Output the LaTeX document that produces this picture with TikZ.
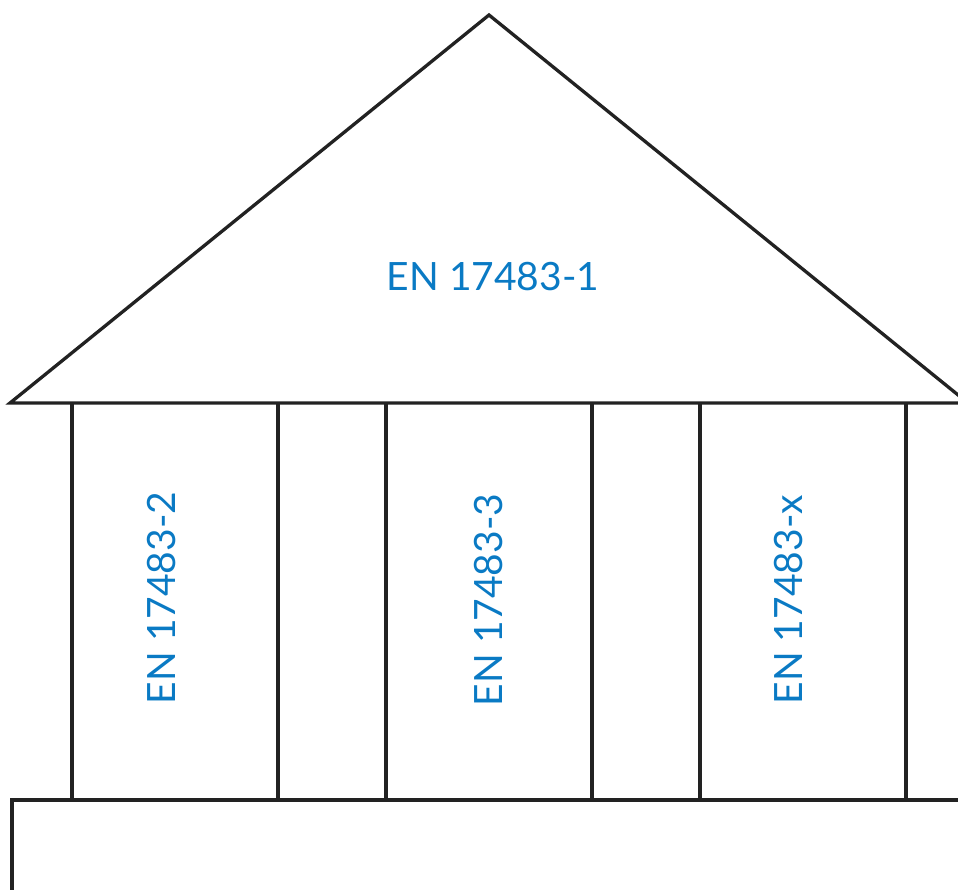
\documentclass[tikz,border=0pt]{standalone}
\usepackage{fontspec}
\setmainfont{Lato}
\definecolor{lbl}{RGB}{10,122,196}
\definecolor{ink}{RGB}{34,34,34}
\begin{document}
\begin{tikzpicture}[x=1pt,y=-1pt,
  edge/.style={draw=ink,line width=3.3pt,line join=miter},
  lab/.style={text=lbl,font=\fontsize{39}{39}\selectfont,inner sep=0pt}]
\useasboundingbox (0,0) rectangle (958,890);
\clip (0,0) rectangle (958,890);
% roof
\coordinate (rl) at (10,403);
\coordinate (ra) at (489,15);
\coordinate (rr) at (968,403);
\draw[edge] (rl) -- (ra) -- (rr) -- cycle;
% columns
\foreach \x in {72,278,386,592,700,906}
  \draw[edge] (\x,403) -- (\x,800);
% base
\draw[edge] (12,900) -- (12,800) -- (975,800);
% labels
\node[lab] (t1) at (493,277) {EN 17483-1};
\node[lab,rotate=90] (t2) at (162,598) {EN 17483-2};
\node[lab,rotate=90] (t3) at (489,600) {EN 17483-3};
\node[lab,rotate=90] (tx) at (789,600) {EN 17483-x};
\end{tikzpicture}
\end{document}
